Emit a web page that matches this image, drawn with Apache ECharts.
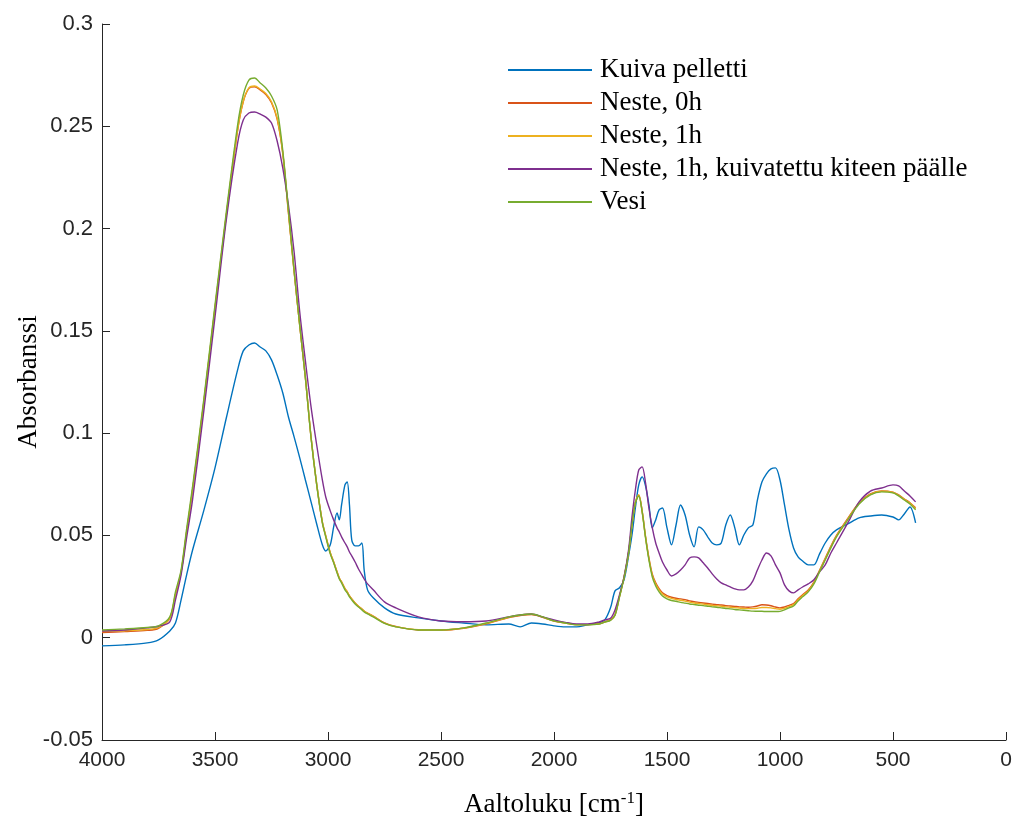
<!DOCTYPE html>
<html>
<head>
<meta charset="utf-8">
<title>FTIR-spektrit</title>
<script src="https://cdn.jsdelivr.net/npm/echarts@6/dist/echarts.min.js"></script>
<style>
  html, body { margin: 0; padding: 0; background: #ffffff; }
  #chart { width: 1019px; height: 819px; }
</style>
</head>
<body>
<div id="chart"></div>
<script>
// Wavenumbers (cm^-1) shared by all spectra
const wavenumbers = [4000, 3900, 3800, 3750, 3700, 3675, 3650, 3625, 3600, 3550,
  3500, 3450, 3400, 3375, 3350, 3325, 3300, 3275, 3250, 3225,
  3200, 3175, 3150, 3125, 3100, 3075, 3050, 3025, 3010, 2990,
  2975, 2960, 2950, 2940, 2925, 2915, 2905, 2895, 2880, 2865,
  2850, 2840, 2825, 2800, 2750, 2700, 2600, 2500, 2400, 2300,
  2200, 2150, 2100, 2050, 2000, 1950, 1900, 1850, 1800, 1775,
  1750, 1730, 1710, 1690, 1670, 1655, 1640, 1625, 1610, 1595,
  1580, 1565, 1550, 1535, 1520, 1500, 1480, 1460, 1440, 1420,
  1400, 1380, 1360, 1340, 1320, 1300, 1280, 1260, 1240, 1220,
  1200, 1180, 1160, 1140, 1120, 1100, 1080, 1060, 1040, 1020,
  1000, 980, 960, 940, 920, 900, 875, 850, 825, 800,
  775, 750, 700, 650, 600, 550, 500, 475, 450, 425,
  400];

const kuivaPelletti = [-0.0040, -0.0035, -0.0025, -0.0010, 0.0033, 0.0072, 0.0185, 0.0310, 0.0425, 0.0620,
  0.0830, 0.1074, 0.1309, 0.1402, 0.1431, 0.1441, 0.1421, 0.1402, 0.1358, 0.1284,
  0.1196, 0.1079, 0.0982, 0.0879, 0.0771, 0.0664, 0.0556, 0.0454, 0.0424, 0.0454,
  0.0542, 0.0610, 0.0576, 0.0649, 0.0747, 0.0761, 0.0649, 0.0478, 0.0449, 0.0449,
  0.0463, 0.0331, 0.0234, 0.0195, 0.0146, 0.0116, 0.0097, 0.0082, 0.0072, 0.0063,
  0.0067, 0.0053, 0.0072, 0.0067, 0.0058, 0.0053, 0.0053, 0.0063, 0.0072, 0.0087,
  0.0146, 0.0229, 0.0244, 0.0283, 0.0400, 0.0502, 0.0634, 0.0747, 0.0786, 0.0742,
  0.0649, 0.0537, 0.0576, 0.0625, 0.0634, 0.0537, 0.0454, 0.0551, 0.0649, 0.0600,
  0.0502, 0.0444, 0.0542, 0.0527, 0.0493, 0.0463, 0.0454, 0.0463, 0.0551, 0.0600,
  0.0537, 0.0454, 0.0502, 0.0537, 0.0551, 0.0673, 0.0761, 0.0801, 0.0825, 0.0830,
  0.0771, 0.0649, 0.0527, 0.0439, 0.0395, 0.0375, 0.0356, 0.0356, 0.0410, 0.0463,
  0.0502, 0.0527, 0.0556, 0.0586, 0.0595, 0.0600, 0.0590, 0.0576, 0.0605, 0.0639,
  0.0561];

const neste0h = [0.0025, 0.0030, 0.0036, 0.0046, 0.0095, 0.0210, 0.0320, 0.0520, 0.0715, 0.1145,
  0.1610, 0.2065, 0.2480, 0.2620, 0.2685, 0.2693, 0.2678, 0.2655, 0.2615, 0.2535,
  0.2365, 0.2075, 0.1790, 0.1525, 0.1270, 0.0980, 0.0750, 0.0565, 0.0498, 0.0415,
  0.0370, 0.0322, 0.0292, 0.0273, 0.0240, 0.0224, 0.0205, 0.0190, 0.0170, 0.0154,
  0.0140, 0.0130, 0.0120, 0.0106, 0.0072, 0.0055, 0.0038, 0.0037, 0.0046, 0.0068,
  0.0098, 0.0108, 0.0113, 0.0100, 0.0081, 0.0072, 0.0064, 0.0064, 0.0068, 0.0078,
  0.0087, 0.0112, 0.0203, 0.0296, 0.0417, 0.0552, 0.0660, 0.0697, 0.0620, 0.0495,
  0.0390, 0.0310, 0.0268, 0.0240, 0.0220, 0.0206, 0.0198, 0.0193, 0.0190, 0.0186,
  0.0180, 0.0176, 0.0173, 0.0170, 0.0167, 0.0164, 0.0162, 0.0160, 0.0157, 0.0155,
  0.0153, 0.0151, 0.0150, 0.0149, 0.0151, 0.0155, 0.0161, 0.0160, 0.0156, 0.0150,
  0.0146, 0.0150, 0.0158, 0.0167, 0.0190, 0.0210, 0.0233, 0.0272, 0.0330, 0.0388,
  0.0447, 0.0500, 0.0583, 0.0660, 0.0703, 0.0718, 0.0712, 0.0698, 0.0678, 0.0660,
  0.0635];

const neste1h = [0.0030, 0.0034, 0.0040, 0.0049, 0.0097, 0.0212, 0.0322, 0.0522, 0.0716, 0.1148,
  0.1612, 0.2066, 0.2482, 0.2622, 0.2688, 0.2697, 0.2682, 0.2660, 0.2620, 0.2540,
  0.2370, 0.2080, 0.1792, 0.1526, 0.1271, 0.0981, 0.0751, 0.0566, 0.0498, 0.0416,
  0.0371, 0.0322, 0.0292, 0.0273, 0.0240, 0.0224, 0.0205, 0.0190, 0.0170, 0.0154,
  0.0140, 0.0130, 0.0119, 0.0105, 0.0071, 0.0054, 0.0039, 0.0038, 0.0047, 0.0070,
  0.0100, 0.0110, 0.0115, 0.0101, 0.0082, 0.0072, 0.0064, 0.0064, 0.0068, 0.0077,
  0.0086, 0.0111, 0.0202, 0.0295, 0.0416, 0.0551, 0.0662, 0.0699, 0.0618, 0.0492,
  0.0386, 0.0305, 0.0262, 0.0234, 0.0214, 0.0200, 0.0192, 0.0187, 0.0183, 0.0179,
  0.0174, 0.0170, 0.0167, 0.0164, 0.0161, 0.0158, 0.0156, 0.0154, 0.0151, 0.0149,
  0.0147, 0.0145, 0.0143, 0.0142, 0.0142, 0.0144, 0.0148, 0.0148, 0.0146, 0.0142,
  0.0139, 0.0144, 0.0152, 0.0162, 0.0185, 0.0206, 0.0229, 0.0268, 0.0326, 0.0384,
  0.0443, 0.0497, 0.0580, 0.0657, 0.0701, 0.0716, 0.0710, 0.0696, 0.0676, 0.0658,
  0.0630];

const neste1hKuivatettu = [0.0033, 0.0038, 0.0048, 0.0056, 0.0078, 0.0185, 0.0307, 0.0493, 0.0669, 0.1104,
  0.1568, 0.2042, 0.2418, 0.2531, 0.2565, 0.2570, 0.2560, 0.2545, 0.2516, 0.2428,
  0.2296, 0.2115, 0.1886, 0.1592, 0.1353, 0.1128, 0.0942, 0.0771, 0.0688, 0.0620,
  0.0576, 0.0537, 0.0517, 0.0493, 0.0463, 0.0444, 0.0419, 0.0400, 0.0370, 0.0336,
  0.0307, 0.0287, 0.0263, 0.0234, 0.0175, 0.0146, 0.0102, 0.0082, 0.0078, 0.0082,
  0.0102, 0.0111, 0.0116, 0.0102, 0.0087, 0.0075, 0.0067, 0.0067, 0.0077, 0.0087,
  0.0095, 0.0136, 0.0210, 0.0297, 0.0429, 0.0590, 0.0722, 0.0820, 0.0835, 0.0757,
  0.0634, 0.0537, 0.0463, 0.0414, 0.0370, 0.0331, 0.0302, 0.0312, 0.0331, 0.0356,
  0.0390, 0.0395, 0.0390, 0.0366, 0.0341, 0.0312, 0.0287, 0.0268, 0.0258, 0.0248,
  0.0239, 0.0234, 0.0234, 0.0248, 0.0278, 0.0331, 0.0380, 0.0414, 0.0400, 0.0356,
  0.0317, 0.0258, 0.0229, 0.0219, 0.0234, 0.0248, 0.0263, 0.0283, 0.0322, 0.0356,
  0.0414, 0.0463, 0.0561, 0.0664, 0.0717, 0.0732, 0.0747, 0.0742, 0.0717, 0.0693,
  0.0664];

const vesi = [0.0038, 0.0043, 0.0050, 0.0058, 0.0102, 0.0224, 0.0331, 0.0537, 0.0732, 0.1162,
  0.1627, 0.2081, 0.2506, 0.2653, 0.2726, 0.2736, 0.2712, 0.2687, 0.2648, 0.2580,
  0.2380, 0.2090, 0.1795, 0.1526, 0.1270, 0.0977, 0.0747, 0.0561, 0.0493, 0.0410,
  0.0366, 0.0317, 0.0287, 0.0268, 0.0234, 0.0219, 0.0200, 0.0185, 0.0165, 0.0150,
  0.0136, 0.0126, 0.0116, 0.0102, 0.0070, 0.0053, 0.0038, 0.0038, 0.0048, 0.0072,
  0.0102, 0.0111, 0.0116, 0.0102, 0.0082, 0.0072, 0.0063, 0.0063, 0.0067, 0.0077,
  0.0085, 0.0110, 0.0200, 0.0292, 0.0414, 0.0550, 0.0659, 0.0693, 0.0615, 0.0488,
  0.0380, 0.0297, 0.0253, 0.0224, 0.0204, 0.0190, 0.0182, 0.0178, 0.0173, 0.0169,
  0.0165, 0.0162, 0.0159, 0.0157, 0.0154, 0.0151, 0.0149, 0.0146, 0.0143, 0.0141,
  0.0138, 0.0136, 0.0134, 0.0132, 0.0130, 0.0129, 0.0129, 0.0128, 0.0128, 0.0128,
  0.0129, 0.0136, 0.0146, 0.0155, 0.0180, 0.0200, 0.0224, 0.0263, 0.0322, 0.0380,
  0.0439, 0.0493, 0.0576, 0.0654, 0.0698, 0.0713, 0.0708, 0.0693, 0.0673, 0.0654,
  0.0625];

const seriesNames = ['Kuiva pelletti', 'Neste, 0h', 'Neste, 1h',
  'Neste, 1h, kuivatettu kiteen päälle', 'Vesi'];
const seriesValues = [kuivaPelletti, neste0h, neste1h, neste1hKuivatettu, vesi];
const seriesColors = ['#0072BD', '#D95319', '#EDB120', '#7E2F8E', '#77AC30'];

const axisColor = '#262626';
const serif = '"Liberation Serif", "Times New Roman", serif';
const sans = '"Liberation Sans", Arial, Helvetica, sans-serif';

const chart = echarts.init(document.getElementById('chart'), null, { renderer: 'canvas' });

chart.setOption({
  animation: false,
  backgroundColor: '#ffffff',
  grid: { left: 102, right: 13, top: 24, bottom: 79, containLabel: false, outerBoundsMode: 'none' },
  legend: {
    orient: 'vertical',
    left: 508,
    top: 55,
    padding: 0,
    itemWidth: 84,
    itemHeight: 2,
    itemGap: 3,
    icon: 'rect',
    data: seriesNames,
    textStyle: { fontFamily: serif, fontSize: 27, color: '#000000', lineHeight: 30, padding: [0, 0, 0, 3] }
  },
  xAxis: {
    type: 'value',
    inverse: true,
    min: 0,
    max: 4000,
    interval: 500,
    name: 'Aaltoluku [cm{sup|-1}]',
    nameLocation: 'middle',
    nameGap: 50,
    nameMoveOverlap: false,
    nameTextStyle: {
      fontFamily: serif, fontSize: 27, color: '#000000', lineHeight: 30,
      rich: { sup: { fontFamily: serif, fontSize: 17, lineHeight: 16, verticalAlign: 'top', color: '#000000' } }
    },
    axisLine: { onZero: false, lineStyle: { color: axisColor, width: 1 } },
    axisTick: { inside: true, length: 8, lineStyle: { color: axisColor } },
    axisLabel: {
      fontFamily: sans, fontSize: 21, color: axisColor, margin: 10,
      showMinLabel: true, showMaxLabel: true,
      formatter: v => String(v)
    },
    splitLine: { show: false }
  },
  yAxis: {
    type: 'value',
    min: -0.05,
    max: 0.3,
    interval: 0.05,
    name: 'Absorbanssi',
    nameLocation: 'middle',
    nameGap: 60,
    nameMoveOverlap: false,
    nameRotate: 90,
    nameTextStyle: { fontFamily: serif, fontSize: 27, color: '#000000' },
    axisLine: { show: true, onZero: false, lineStyle: { color: axisColor, width: 1 } },
    axisTick: { show: true, inside: true, length: 8, lineStyle: { color: axisColor } },
    axisLabel: {
      fontFamily: sans, fontSize: 22, color: axisColor, margin: 9,
      formatter: v => String(+v.toFixed(2))
    },
    splitLine: { show: false }
  },
  series: seriesNames.map((name, i) => ({
    name: name,
    type: 'line',
    symbol: 'none',
    smooth: 0.3,
    color: seriesColors[i],
    lineStyle: { color: seriesColors[i], width: 1.4 },
    data: wavenumbers.map((w, k) => [w, seriesValues[i][k]])
  }))
});
</script>
</body>
</html>
